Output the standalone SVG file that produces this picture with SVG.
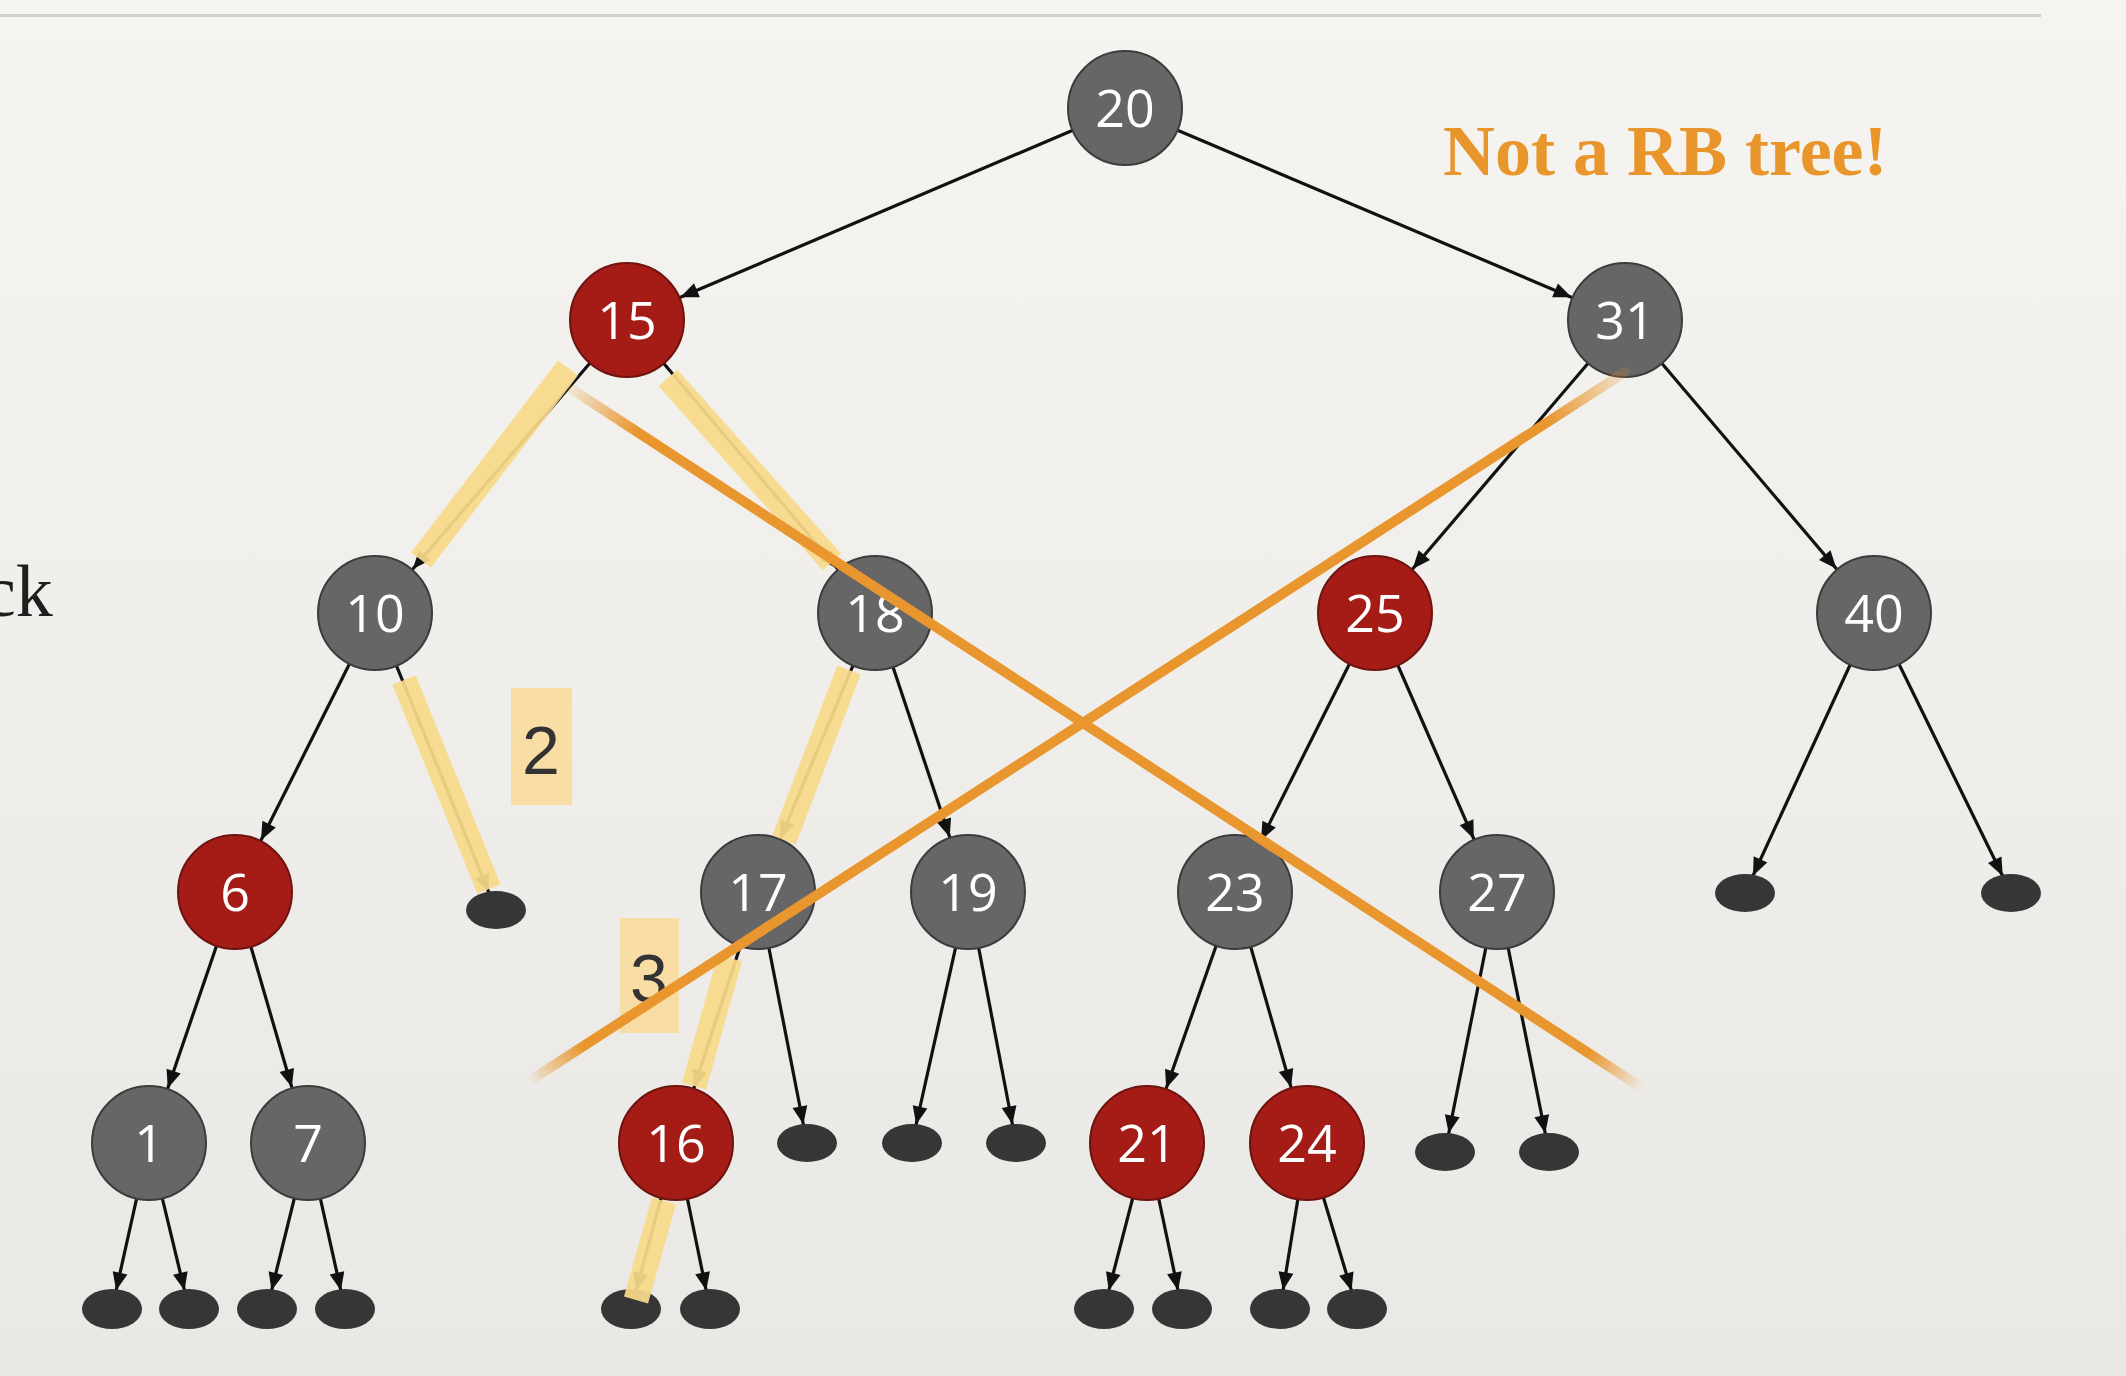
<svg xmlns="http://www.w3.org/2000/svg" width="2126" height="1376" viewBox="0 0 2126 1376">
<defs>
<linearGradient id="bg" x1="0" y1="0" x2="0" y2="1">
<stop offset="0" stop-color="#F5F4F0"/>
<stop offset="1" stop-color="#E9E8E4"/>
</linearGradient>
<linearGradient id="og1" gradientUnits="userSpaceOnUse" x1="573" y1="390" x2="1642" y2="1088">
<stop offset="0" stop-color="#E9962E" stop-opacity="0.15"/>
<stop offset="0.06" stop-color="#E9962E" stop-opacity="1"/>
<stop offset="0.95" stop-color="#E9962E" stop-opacity="1"/>
<stop offset="1" stop-color="#E9962E" stop-opacity="0"/>
</linearGradient>
<linearGradient id="og2" gradientUnits="userSpaceOnUse" x1="1625" y1="372" x2="528" y2="1082">
<stop offset="0" stop-color="#E9962E" stop-opacity="0.15"/>
<stop offset="0.07" stop-color="#E9962E" stop-opacity="1"/>
<stop offset="0.95" stop-color="#E9962E" stop-opacity="1"/>
<stop offset="1" stop-color="#E9962E" stop-opacity="0"/>
</linearGradient>
<marker id="ac" markerUnits="userSpaceOnUse" orient="auto" refX="0" refY="0" markerWidth="1" markerHeight="1" overflow="visible">
<path d="M-58,0 L-76,-7.5 L-76,7.5 Z" fill="#111"/>
</marker>
<marker id="an" markerUnits="userSpaceOnUse" orient="auto" refX="0" refY="0" markerWidth="1" markerHeight="1" overflow="visible">
<path d="M-19,0 L-37,-7.5 L-37,7.5 Z" fill="#111"/>
</marker>
<style>
.e{stroke:#111;stroke-width:3.2;fill:none}
.ec{marker-end:url(#ac)}
.en{marker-end:url(#an)}
.b{fill:#666666;stroke:#3C3C3C;stroke-width:2}
.r{fill:#A51C17;stroke:#6E1410;stroke-width:2}
.nil{fill:#363636}
.lbl{font-family:"Open Sans","DejaVu Sans",sans-serif;font-size:52px;fill:#FFFFFF;text-anchor:middle}
.hl{stroke:#F7D98A;stroke-opacity:0.93;stroke-width:25;fill:none;stroke-linecap:butt}
.box{fill:#F8DC9C;fill-opacity:0.9}
.num{font-family:"Liberation Sans","DejaVu Sans",sans-serif;font-size:68px;fill:#333;text-anchor:middle}
.x{stroke-width:10;fill:none;stroke-linecap:round}
</style>
</defs>
<rect x="0" y="0" width="2126" height="1376" fill="url(#bg)"/>
<line x1="0" y1="15.5" x2="2041" y2="15.5" stroke="#CFCFCB" stroke-width="3"/>
<text x="-17" y="616" font-family="Liberation Serif, serif" font-size="74" fill="#1E1E1E">ck</text>

<g id="connectors">
<line class="e ec" x1="1125" y1="108" x2="627" y2="320"/>
<line class="e ec" x1="1125" y1="108" x2="1625" y2="320"/>
<line class="e ec" x1="627" y1="320" x2="375" y2="613"/>
<line class="e ec" x1="627" y1="320" x2="875" y2="613"/>
<line class="e ec" x1="1625" y1="320" x2="1375" y2="613"/>
<line class="e ec" x1="1625" y1="320" x2="1874" y2="613"/>
<line class="e ec" x1="375" y1="613" x2="235" y2="892"/>
<line class="e en" x1="375" y1="613" x2="496" y2="910"/>
<line class="e ec" x1="875" y1="613" x2="758" y2="892"/>
<line class="e ec" x1="875" y1="613" x2="968" y2="892"/>
<line class="e ec" x1="1375" y1="613" x2="1235" y2="892"/>
<line class="e ec" x1="1375" y1="613" x2="1497" y2="892"/>
<line class="e en" x1="1874" y1="613" x2="1745" y2="893"/>
<line class="e en" x1="1874" y1="613" x2="2011" y2="893"/>
<line class="e ec" x1="235" y1="892" x2="149" y2="1143"/>
<line class="e ec" x1="235" y1="892" x2="308" y2="1143"/>
<line class="e ec" x1="758" y1="892" x2="676" y2="1143"/>
<line class="e en" x1="758" y1="892" x2="807" y2="1143"/>
<line class="e en" x1="968" y1="892" x2="912" y2="1143"/>
<line class="e en" x1="968" y1="892" x2="1016" y2="1143"/>
<line class="e ec" x1="1235" y1="892" x2="1147" y2="1143"/>
<line class="e ec" x1="1235" y1="892" x2="1307" y2="1143"/>
<line class="e en" x1="1497" y1="892" x2="1445" y2="1152"/>
<line class="e en" x1="1497" y1="892" x2="1549" y2="1152"/>
<line class="e en" x1="149" y1="1143" x2="112" y2="1309"/>
<line class="e en" x1="149" y1="1143" x2="189" y2="1309"/>
<line class="e en" x1="308" y1="1143" x2="267" y2="1309"/>
<line class="e en" x1="308" y1="1143" x2="345" y2="1309"/>
<line class="e en" x1="676" y1="1143" x2="631" y2="1309"/>
<line class="e en" x1="676" y1="1143" x2="710" y2="1309"/>
<line class="e en" x1="1147" y1="1143" x2="1104" y2="1309"/>
<line class="e en" x1="1147" y1="1143" x2="1182" y2="1309"/>
<line class="e en" x1="1307" y1="1143" x2="1280" y2="1309"/>
<line class="e en" x1="1307" y1="1143" x2="1357" y2="1309"/>
</g>

<g id="nodes">
<g id="n20"><circle class="b" cx="1125" cy="108" r="57"/><text class="lbl" x="1125" y="127">20</text></g>
<g id="n15"><circle class="r" cx="627" cy="320" r="57"/><text class="lbl" x="627" y="339">15</text></g>
<g id="n31"><circle class="b" cx="1625" cy="320" r="57"/><text class="lbl" x="1625" y="339">31</text></g>
<g id="n10"><circle class="b" cx="375" cy="613" r="57"/><text class="lbl" x="375" y="632">10</text></g>
<g id="n18"><circle class="b" cx="875" cy="613" r="57"/><text class="lbl" x="875" y="632">18</text></g>
<g id="n25"><circle class="r" cx="1375" cy="613" r="57"/><text class="lbl" x="1375" y="632">25</text></g>
<g id="n40"><circle class="b" cx="1874" cy="613" r="57"/><text class="lbl" x="1874" y="632">40</text></g>
<g id="n6"><circle class="r" cx="235" cy="892" r="57"/><text class="lbl" x="235" y="911">6</text></g>
<g id="n17"><circle class="b" cx="758" cy="892" r="57"/><text class="lbl" x="758" y="911">17</text></g>
<g id="n19"><circle class="b" cx="968" cy="892" r="57"/><text class="lbl" x="968" y="911">19</text></g>
<g id="n23"><circle class="b" cx="1235" cy="892" r="57"/><text class="lbl" x="1235" y="911">23</text></g>
<g id="n27"><circle class="b" cx="1497" cy="892" r="57"/><text class="lbl" x="1497" y="911">27</text></g>
<g id="n1"><circle class="b" cx="149" cy="1143" r="57"/><text class="lbl" x="149" y="1162">1</text></g>
<g id="n7"><circle class="b" cx="308" cy="1143" r="57"/><text class="lbl" x="308" y="1162">7</text></g>
<g id="n16"><circle class="r" cx="676" cy="1143" r="57"/><text class="lbl" x="676" y="1162">16</text></g>
<g id="n21"><circle class="r" cx="1147" cy="1143" r="57"/><text class="lbl" x="1147" y="1162">21</text></g>
<g id="n24"><circle class="r" cx="1307" cy="1143" r="57"/><text class="lbl" x="1307" y="1162">24</text></g>
<g id="nil-10R"><ellipse class="nil" cx="496" cy="910" rx="30" ry="19"/></g>
<g id="nil-40L"><ellipse class="nil" cx="1745" cy="893" rx="30" ry="19"/></g>
<g id="nil-40R"><ellipse class="nil" cx="2011" cy="893" rx="30" ry="19"/></g>
<g id="nil-17R"><ellipse class="nil" cx="807" cy="1143" rx="30" ry="19"/></g>
<g id="nil-19L"><ellipse class="nil" cx="912" cy="1143" rx="30" ry="19"/></g>
<g id="nil-19R"><ellipse class="nil" cx="1016" cy="1143" rx="30" ry="19"/></g>
<g id="nil-27L"><ellipse class="nil" cx="1445" cy="1152" rx="30" ry="19"/></g>
<g id="nil-27R"><ellipse class="nil" cx="1549" cy="1152" rx="30" ry="19"/></g>
<g id="nil-1L"><ellipse class="nil" cx="112" cy="1309" rx="30" ry="20"/></g>
<g id="nil-1R"><ellipse class="nil" cx="189" cy="1309" rx="30" ry="20"/></g>
<g id="nil-7L"><ellipse class="nil" cx="267" cy="1309" rx="30" ry="20"/></g>
<g id="nil-7R"><ellipse class="nil" cx="345" cy="1309" rx="30" ry="20"/></g>
<g id="nil-16L"><ellipse class="nil" cx="631" cy="1309" rx="30" ry="20"/></g>
<g id="nil-16R"><ellipse class="nil" cx="710" cy="1309" rx="30" ry="20"/></g>
<g id="nil-21L"><ellipse class="nil" cx="1104" cy="1309" rx="30" ry="20"/></g>
<g id="nil-21R"><ellipse class="nil" cx="1182" cy="1309" rx="30" ry="20"/></g>
<g id="nil-24L"><ellipse class="nil" cx="1280" cy="1309" rx="30" ry="20"/></g>
<g id="nil-24R"><ellipse class="nil" cx="1357" cy="1309" rx="30" ry="20"/></g>
</g>

<g id="highlights">
<line class="hl" x1="568" y1="368" x2="421" y2="560"/>
<line class="hl" x1="668" y1="378" x2="832" y2="562"/>
<line class="hl" x1="404" y1="680" x2="489" y2="889"/>
<line class="hl" x1="849" y1="670" x2="784" y2="840"/>
<line class="hl" x1="730" y1="958" x2="694" y2="1086"/>
<line class="hl" x1="664" y1="1201" x2="636" y2="1300"/>
</g>

<g id="label-2"><rect class="box" x="511" y="688" width="61" height="117"/><text class="num" x="541" y="774">2</text></g>
<g id="label-3"><rect class="box" x="620" y="918" width="59" height="115"/><text class="num" x="649" y="1002">3</text></g>

<g id="cross">
<line class="x" x1="573" y1="390" x2="1642" y2="1088" stroke="url(#og1)"/>
<line class="x" x1="1625" y1="372" x2="528" y2="1082" stroke="url(#og2)"/>
</g>

<text x="1443" y="175" font-family="Liberation Serif, serif" font-weight="bold" font-size="72" fill="#E8952B">Not a RB tree!</text>
</svg>
